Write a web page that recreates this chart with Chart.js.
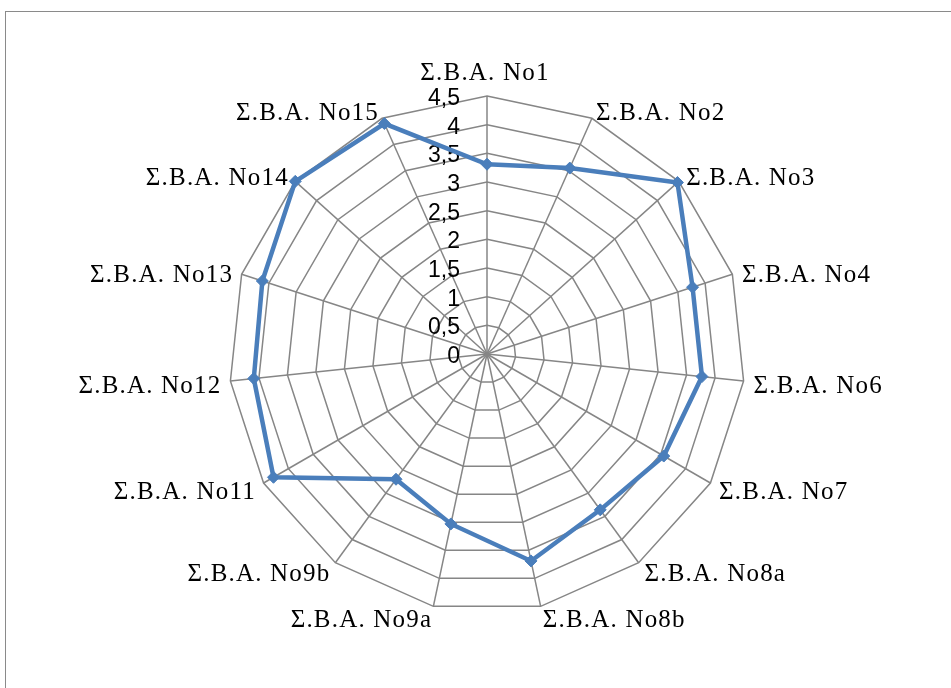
<!DOCTYPE html>
<html>
<head>
<meta charset="utf-8">
<script src="https://cdn.jsdelivr.net/npm/chart.js@4"></script>
<style>
  html, body { margin: 0; padding: 0; background: #fff; overflow: hidden; }
  #wrap { position: relative; width: 951px; height: 688px; }
  #frame { position: absolute; left: 5px; top: 11px; width: 1000px; height: 1000px;
           border: 1.5px solid #8a8a8a; box-sizing: border-box; }
  #c { position: absolute; left: 0; top: 0; }
</style>
</head>
<body>
<div id="wrap">
  <div id="frame"></div>
  <canvas id="c" width="951" height="688"></canvas>
</div>
<script>
// Categories around the radar, clockwise from the top
const categories = [
  'Σ.Β.Α. No1', 'Σ.Β.Α. No2', 'Σ.Β.Α. No3', 'Σ.Β.Α. No4', 'Σ.Β.Α. No6',
  'Σ.Β.Α. No7', 'Σ.Β.Α. No8a', 'Σ.Β.Α. No8b', 'Σ.Β.Α. No9a', 'Σ.Β.Α. No9b',
  'Σ.Β.Α. No11', 'Σ.Β.Α. No12', 'Σ.Β.Α. No13', 'Σ.Β.Α. No14', 'Σ.Β.Α. No15'
];

// Series values
const values = [3.31, 3.55, 4.47, 3.77, 3.77, 3.56, 3.36, 3.69, 3.03, 2.70, 4.30, 4.09, 4.12, 4.50, 4.40];

// Radial axis ticks
const tickValues = [0, 0.5, 1, 1.5, 2, 2.5, 3, 3.5, 4, 4.5];
const tickLabels = ['0', '0,5', '1', '1,5', '2', '2,5', '3', '3,5', '4', '4,5'];

const GRID = '#868686';
const LINE = '#4A7EBB';

// Tick labels sit left of the vertical axis; category names hug the outer ring
const axisText = {
  id: 'axisText',
  beforeDatasetsDraw(chart) {
    const r = chart.scales.r;
    const ctx = chart.ctx;
    ctx.save();
    ctx.fillStyle = '#000';

    ctx.font = '23px "Liberation Sans"';
    ctx.textAlign = 'right';
    ctx.textBaseline = 'middle';
    tickValues.forEach((v, i) => {
      const d = r.getDistanceFromCenterForValue(v);
      ctx.fillText(tickLabels[i], r.xCenter - 27, r.yCenter - d + 2.5);
    });

    ctx.font = '25px "Liberation Serif"';
    ctx.letterSpacing = '1.2px';
    categories.forEach((name, i) => {
      const p = r.getPointPosition(i, r.drawingArea + 10);
      const dx = p.x - r.xCenter;
      if (Math.abs(dx) < 1) {
        ctx.textAlign = 'center';
        ctx.textBaseline = 'alphabetic';
        ctx.fillText(name, p.x - 2, p.y - 6);
      } else if (dx > 0) {
        ctx.textAlign = 'left';
        ctx.textBaseline = 'middle';
        ctx.fillText(name, p.x, p.y + 4);
      } else {
        ctx.textAlign = 'right';
        ctx.textBaseline = 'middle';
        ctx.fillText(name, p.x + 1, p.y + 4);
      }
    });
    ctx.restore();
  }
};

new Chart(document.getElementById('c'), {
  type: 'radar',
  data: {
    labels: categories,
    datasets: [{
      data: values,
      borderColor: LINE,
      backgroundColor: LINE,
      borderWidth: 4.5,
      fill: false,
      tension: 0,
      pointStyle: 'rectRot',
      pointRadius: 6,
      pointBorderWidth: 1,
      pointBackgroundColor: LINE,
      pointBorderColor: LINE
    }]
  },
  options: {
    responsive: false,
    animation: false,
    devicePixelRatio: 1,
    layout: { padding: { left: 229, right: 206, top: 96, bottom: 76 } },
    plugins: { legend: { display: false }, tooltip: { enabled: false } },
    scales: {
      r: {
        min: 0,
        max: 4.5,
        ticks: { stepSize: 0.5, display: false },
        grid: { color: GRID, lineWidth: 1.5 },
        angleLines: { color: GRID, lineWidth: 1.5 },
        pointLabels: { display: false }
      }
    }
  },
  plugins: [axisText]
});
</script>
</body>
</html>
